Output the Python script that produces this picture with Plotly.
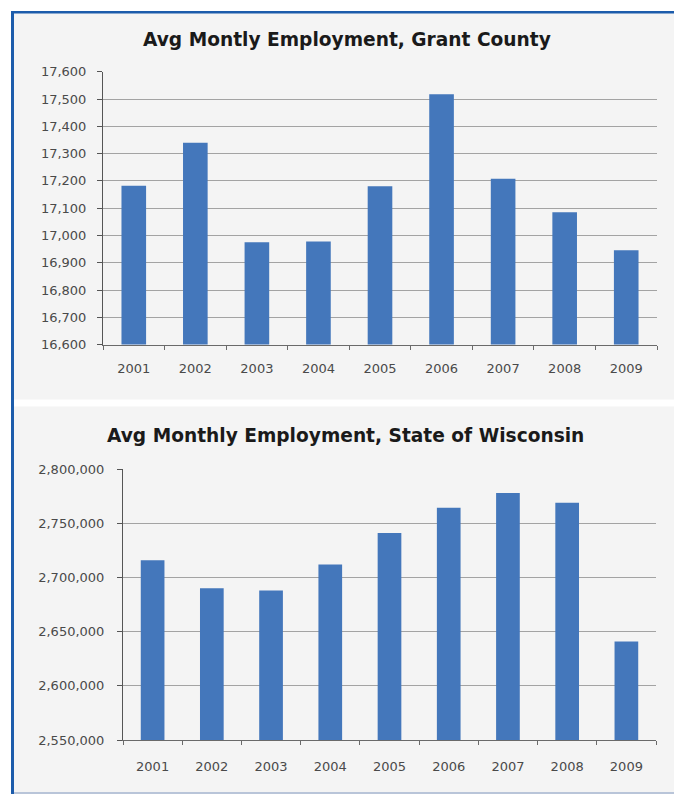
import plotly.graph_objects as go

# Annual averages of monthly employment
years = ["2001", "2002", "2003", "2004", "2005", "2006", "2007", "2008", "2009"]
grant_county = [17182, 17340, 16975, 16978, 17180, 17518, 17208, 17085, 16946]
wisconsin = [2716000, 2690000, 2688000, 2712000, 2741000, 2764500, 2778000, 2769000, 2641000]

grant_title = "Avg Montly Employment, Grant County"
wisconsin_title = "Avg Monthly Employment, State of Wisconsin"

W, H = 674, 802
BAR = "#4477BB"
PANEL = "#F4F4F4"
BORDER = "#1C5CAB"
GRID = "#A3A3A3"
TICKFONT = dict(family="DejaVu Sans", size=13, color="#4A4A4A")
TITLEFONT = dict(family="DejaVu Sans", size=18.6, color="#1A1A1A")


def px_x(v):
    return v / W


def px_y(v):
    return 1 - v / H


fig = go.Figure()
fig.add_trace(go.Bar(x=years, y=grant_county, marker=dict(color=BAR, line=dict(width=0)),
                     xaxis="x", yaxis="y", hoverinfo="x+y"))
fig.add_trace(go.Bar(x=years, y=wisconsin, marker=dict(color=BAR, line=dict(width=0)),
                     xaxis="x2", yaxis="y2", hoverinfo="x+y"))

xcommon = dict(type="category", showline=True, linecolor="#6A6A6A", linewidth=1,
               ticks="outside", tickson="boundaries", ticklen=4, tickcolor="#6A6A6A",
               showgrid=False, tickfont=TICKFONT, fixedrange=True)
ycommon = dict(showline=True, linecolor="#555555", linewidth=1, ticks="outside",
               ticklen=5, tickcolor="#555555", showgrid=True, gridcolor=GRID,
               gridwidth=1.4, tickformat=",d", tickfont=TICKFONT, zeroline=False,
               fixedrange=True)

shapes = [
    # panel backgrounds
    dict(type="rect", xref="paper", yref="paper", x0=px_x(14), x1=1, y0=px_y(400), y1=px_y(6),
         fillcolor=PANEL, line=dict(width=0), layer="below"),
    dict(type="rect", xref="paper", yref="paper", x0=px_x(14), x1=1, y0=px_y(800), y1=px_y(407),
         fillcolor=PANEL, line=dict(width=0), layer="below"),
    # frame
    dict(type="rect", xref="paper", yref="paper", x0=px_x(11), x1=1, y0=px_y(6.7), y1=px_y(4),
         fillcolor=BORDER, line=dict(width=0), layer="above"),
    dict(type="rect", xref="paper", yref="paper", x0=px_x(11), x1=px_x(14), y0=0, y1=px_y(4),
         fillcolor=BORDER, line=dict(width=0), layer="above"),
    dict(type="rect", xref="paper", yref="paper", x0=px_x(14), x1=1, y0=px_y(802), y1=px_y(800),
         fillcolor="#B9C5D9", line=dict(width=0), layer="above"),
]

annotations = [
    dict(text="<b>%s</b>" % grant_title, xref="paper", yref="paper", x=px_x(347), y=px_y(33),
         xanchor="center", yanchor="middle", showarrow=False, font=TITLEFONT),
    dict(text="<b>%s</b>" % wisconsin_title, xref="paper", yref="paper", x=px_x(345), y=px_y(437),
         xanchor="center", yanchor="middle", showarrow=False, font=TITLEFONT),
]

fig.update_layout(
    width=W, height=H, margin=dict(l=0, r=0, t=0, b=0, pad=0),
    paper_bgcolor="white", plot_bgcolor="rgba(0,0,0,0)",
    showlegend=False, bargap=0.6,
    xaxis=dict(domain=[px_x(103), px_x(657)], anchor="y", ticklabelstandoff=12, **xcommon),
    yaxis=dict(domain=[px_y(344), px_y(66)], anchor="x", range=[16600, 17600], dtick=100,
               ticklabelstandoff=8, **ycommon),
    xaxis2=dict(domain=[px_x(123), px_x(656)], anchor="y2", ticklabelstandoff=14, **xcommon),
    yaxis2=dict(domain=[px_y(747), px_y(471)], anchor="x2", range=[2550000, 2800000],
                dtick=50000, ticklabelstandoff=10, **ycommon),
    shapes=shapes, annotations=annotations,
)

fig.write_html("out.html", config={"displayModeBar": False})
